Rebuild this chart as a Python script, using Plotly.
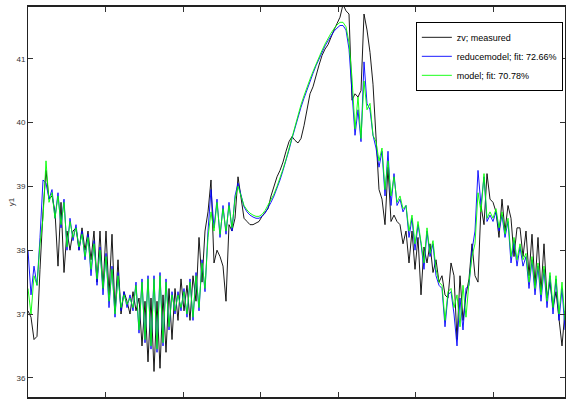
import numpy as np
import plotly.graph_objects as go

# sample period (x axis units) and number of samples
Ts = 38.7
n_samples = 180

measured = [
    37.05, 36.95, 36.6, 36.65, 37.7, 38.6, 39.25, 38.8, 38.85, 38.6,
    37.75, 38.75, 37.65, 38.3, 38.0, 38.3, 38.35, 38.0, 38.35, 38.0,
    38.3, 37.85, 38.3, 37.5, 38.3, 37.4, 38.3, 37.3, 38.25, 37.05,
    37.85, 37.0, 37.35, 37.2, 37.0, 37.35, 37.05, 37.25, 36.5, 37.2,
    36.25, 37.25, 36.1, 37.2, 36.15, 37.3, 36.4, 37.4, 36.6, 37.4,
    36.9, 37.55, 37.05, 37.45, 36.9, 37.6, 37.2, 38.2, 37.5, 38.3,
    38.6, 39.1, 37.8, 38.0, 37.9, 37.75, 37.2, 38.4, 38.3, 38.5,
    39.15, 38.85, 38.5, 38.45, 38.4, 38.4, 38.42, 38.45, 38.53, 38.6,
    38.65, 38.85, 39.0, 39.15, 39.25, 39.38, 39.55, 39.7, 39.78, 39.72,
    39.68, 39.75, 39.95, 40.2, 40.45, 40.56, 40.75, 40.9, 41.05, 41.15,
    41.22, 41.35, 41.45, 41.55, 41.65, 41.85, 41.75, 41.7, 40.35, 40.45,
    40.4, 40.5, 41.7, 41.45, 41.1, 40.6, 39.8, 38.95, 38.8, 38.4,
    39.3, 38.45, 38.55, 38.45, 38.4, 38.1, 38.3, 37.8, 38.3, 37.7,
    38.2, 37.3, 38.05, 37.8, 38.1, 37.65, 37.85, 37.5, 37.6, 37.3,
    37.25, 37.8, 37.6, 36.6, 37.6, 36.9, 37.3, 37.55, 38.1, 37.6,
    37.5, 38.7, 38.4, 39.2, 38.8, 38.75, 38.6, 38.2, 38.8, 38.3,
    38.7, 38.5, 37.9, 38.35, 38.35, 37.9, 38.3, 37.6, 38.25, 37.45,
    38.2, 37.35, 38.1, 37.25, 37.5, 37.1, 37.35, 36.9, 36.5, 37.05,
]

reducemodel = [
    38.0, 37.3, 37.75, 37.45, 38.2, 39.1, 39.05, 38.8, 38.95, 38.5,
    38.9, 38.35, 38.8, 38.0, 38.5, 38.15, 38.4, 38.0, 38.3, 37.85,
    38.25, 37.6, 38.15, 37.45, 38.05, 37.3, 37.95, 37.1, 37.75, 36.95,
    37.65, 37.05, 37.35, 37.1, 37.3, 37.05, 37.5, 36.7, 37.55, 36.55,
    37.6, 36.45, 37.6, 36.4, 37.65, 36.5, 37.55, 36.75, 37.35, 37.0,
    37.35, 37.05, 37.4, 36.95, 37.55, 36.9, 37.65, 37.05, 37.85, 37.35,
    38.3, 38.95, 38.35, 38.8, 38.2, 38.7, 38.25, 38.75, 38.3, 38.85,
    39.05, 38.85, 38.68, 38.6, 38.55, 38.52, 38.5, 38.5, 38.53, 38.58,
    38.66, 38.75, 38.85, 38.97, 39.1, 39.25, 39.4, 39.57, 39.75, 39.92,
    40.08, 40.24, 40.38, 40.52, 40.65, 40.77, 40.89, 41.0, 41.1, 41.2,
    41.28, 41.36, 41.43, 41.48, 41.52, 41.52, 41.45, 41.15, 40.5, 39.8,
    40.2, 39.7, 40.95, 40.3, 40.2, 39.8, 39.6, 39.3, 39.55, 38.85,
    39.55, 38.7, 39.2, 38.7, 38.8, 38.6, 38.7, 38.2, 38.5, 38.0,
    38.4, 38.1, 37.7, 38.3, 37.9, 38.1, 37.6, 37.45, 37.4, 36.8,
    37.3, 37.35, 37.0, 36.5, 37.25, 36.75, 37.4, 37.45, 38.0, 38.3,
    39.25, 38.7, 39.15, 38.45, 38.55, 38.45, 38.6, 38.3, 38.55, 38.2,
    38.45, 37.8, 38.15, 37.75, 38.05, 37.75, 37.9, 37.4, 37.85, 37.3,
    37.75, 37.2, 37.7, 37.1, 37.6, 37.0, 37.55, 36.9, 37.4, 36.75,
]

model = [
    37.4, 37.0, 37.6, 37.45, 38.1, 38.5, 39.4, 38.75, 38.9, 38.5,
    38.85, 38.4, 38.75, 38.05, 38.45, 38.2, 38.35, 38.05, 38.25, 37.9,
    38.2, 37.7, 38.1, 37.55, 38.0, 37.4, 37.9, 37.2, 37.7, 37.0,
    37.6, 37.1, 37.3, 37.15, 37.25, 37.1, 37.45, 36.75, 37.5, 36.6,
    37.55, 36.5, 37.55, 36.45, 37.6, 36.55, 37.5, 36.8, 37.3, 37.05,
    37.3, 37.1, 37.35, 37.0, 37.5, 36.95, 37.6, 37.1, 37.8, 37.4,
    38.2, 38.6, 38.3, 38.75, 38.25, 38.65, 38.3, 38.7, 38.35, 38.8,
    39.0, 38.85, 38.7, 38.63, 38.58, 38.55, 38.53, 38.53, 38.56, 38.62,
    38.7, 38.78, 38.88, 39.0, 39.12, 39.27, 39.42, 39.6, 39.78, 39.95,
    40.12, 40.28, 40.42, 40.56, 40.68, 40.8, 40.92, 41.03, 41.13, 41.23,
    41.32, 41.4, 41.47, 41.53, 41.57, 41.57, 41.5, 41.25, 40.7, 39.9,
    40.4, 39.75, 40.65, 40.2, 40.3, 39.8, 39.7, 39.4, 39.6, 38.95,
    39.4, 38.85, 39.15, 38.75, 38.85, 38.65, 38.7, 38.3, 38.55, 38.1,
    38.45, 38.15, 37.8, 38.35, 37.95, 38.15, 37.7, 37.5, 37.45, 36.9,
    37.35, 37.4, 37.1, 37.3, 36.8, 37.45, 36.95, 37.5, 37.9, 38.1,
    38.9, 38.6, 39.2, 38.5, 38.6, 38.5, 38.65, 38.35, 38.6, 38.25,
    38.5, 37.9, 38.2, 37.85, 38.1, 37.85, 37.95, 37.5, 37.9, 37.4,
    37.8, 37.3, 37.75, 37.2, 37.65, 37.1, 37.6, 37.0, 37.5, 36.9,
]

x_tick_vals = [1000, 2000, 3000, 4000, 5000, 6000]
x_tick_text = ["1000", "2000", "3000", "4000", "5000", "6000"]
y_tick_vals = [36, 37, 38, 39, 40, 41]

t = np.arange(n_samples) * Ts

fig = go.Figure()
fig.add_trace(go.Scatter(x=t, y=measured, mode="lines", name="zv; measured",
                         line=dict(color="#000000", width=0.9)))
fig.add_trace(go.Scatter(x=t, y=reducemodel, mode="lines", name="reducemodel; fit: 72.66%",
                         line=dict(color="#0000ff", width=0.9)))
fig.add_trace(go.Scatter(x=t, y=model, mode="lines", name="model; fit: 70.78%",
                         line=dict(color="#00ff00", width=0.9)))

font_family = "Liberation Sans, Arial, sans-serif"

fig.update_layout(
    width=566, height=403,
    margin=dict(l=28, r=1, t=7, b=6),
    paper_bgcolor="white", plot_bgcolor="white",
    font=dict(family=font_family, size=8, color="#333333"),
    showlegend=True,
    hovermode=False,
    legend=dict(
        x=0.996, y=0.962, xanchor="right", yanchor="top",
        bgcolor="white", bordercolor="black", borderwidth=1,
        font=dict(family=font_family, size=9, color="#000000"),
        tracegroupgap=0, itemwidth=30,
    ),
)
fig.update_xaxes(
    range=[0, (n_samples - 1) * Ts], autorange=False,
    tickvals=x_tick_vals, ticktext=x_tick_text,
    ticks="inside", ticklen=5, tickcolor="#333333",
    showline=True, linecolor="#222222", linewidth=2, mirror="ticks",
    showgrid=False, zeroline=False, automargin=False,
    tickfont=dict(size=8, color="#333333"),
)
fig.update_yaxes(
    range=[35.70, 41.81], autorange=False,
    tickvals=y_tick_vals,
    ticks="inside", ticklen=5, tickcolor="#333333",
    showline=True, linecolor="#222222", linewidth=1, mirror="ticks",
    showgrid=False, zeroline=False, automargin=False,
    tickfont=dict(size=8, color="#333333"),
    title=dict(text="y1", font=dict(size=8, color="#333333"), standoff=0),
)

fig.write_html("out.html",
               config={"displayModeBar": False},
               post_script="document.body.style.margin='0';document.body.style.padding='0';")
